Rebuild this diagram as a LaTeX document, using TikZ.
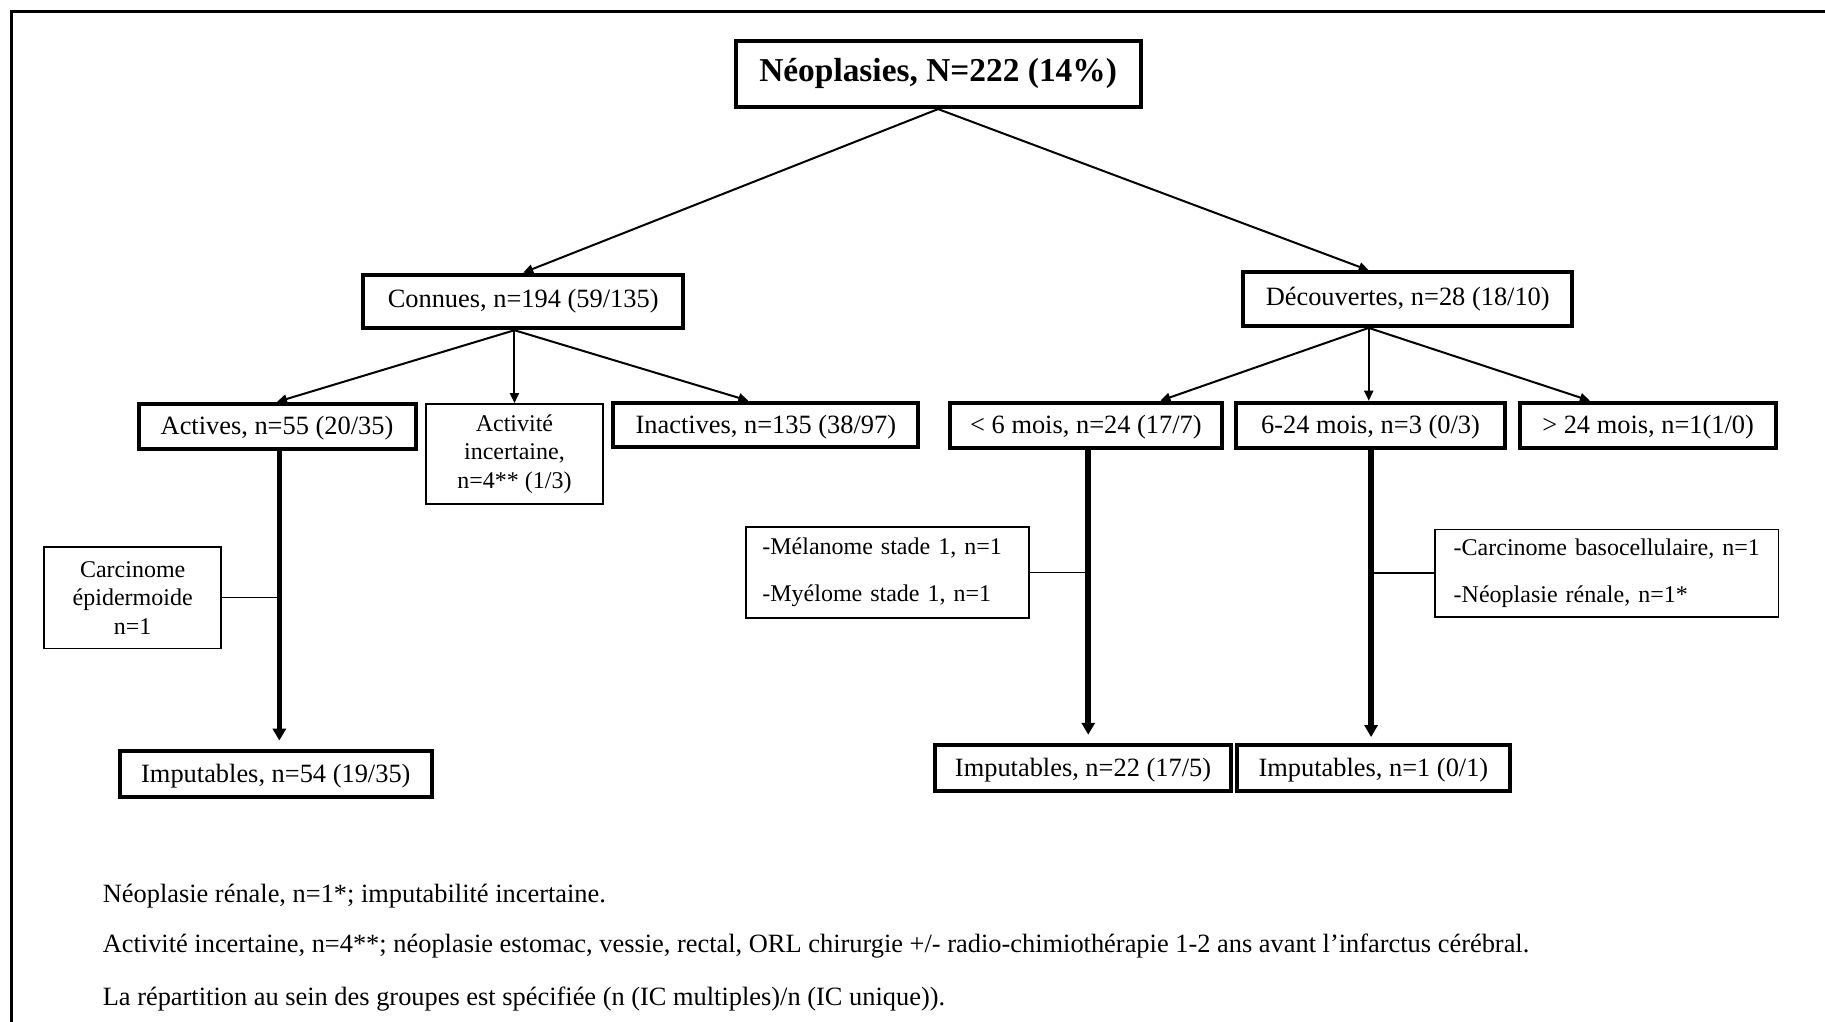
\documentclass[tikz,border=0pt]{standalone}
\usepackage{fontspec}
\setmainfont{Liberation Serif}
\usetikzlibrary{arrows.meta}
\tikzset{
  sz/.style 2 args={minimum width=#1*0.582pt, minimum height=#2*0.582pt},
  boxbase/.style={draw, rectangle, inner sep=0pt, align=center, font=\fontsize{13.2}{15}\selectfont},
  thickbox/.style={boxbase, line width=2pt},
  lowtext/.style={text height=1.05em, text depth=0.22em},
  thinbox/.style={boxbase, line width=0.8pt, font=\fontsize{12}{14.2}\selectfont},
  listbox/.style={thinbox, align=left, font=\fontsize{12}{23.5}\selectfont},
  titlebox/.style={draw, rectangle, inner sep=0pt, line width=2pt, font=\fontsize{16.7}{19}\selectfont\bfseries},
  arr/.style={line width=1pt, -{Triangle[length=5pt,width=4.5pt]}},
  bigarr/.style={line width=2.8pt, -{Triangle[length=6pt,width=6.5pt]}},
  link/.style={line width=0.8pt},
  note/.style={anchor=west, inner sep=0pt, font=\fontsize{13.2}{15}\selectfont},
}
\begin{document}
\begin{tikzpicture}[x=0.582pt, y=-0.582pt]
\useasboundingbox (0,0) rectangle (1568,878);
\fill[white] (0,0) rectangle (1568,878);
% frame (cut off at right and bottom)
\draw[line width=1.8pt] (10,878) -- (10,10) -- (1568,10);

% nodes
\node[titlebox, sz={348}{57}] (top) at (806,63.5) {Néoplasies, N=222 (14\%)};
\node[thickbox, sz={275}{46}] (conn) at (449.5,259) {Connues, n=194 (59/135)};
\node[thickbox, sz={283}{46}] (dec) at (1209.5,257) {Découvertes, n=28 (18/10)};

\node[thickbox, lowtext, sz={238}{39}] (act) at (238,366.5) {Actives, n=55 (20/35)};
\node[thinbox, sz={152}{86}] (inc) at (442,390) {Activité\\incertaine,\\n=4** (1/3)};
\node[thickbox, lowtext, sz={262}{38}] (inact) at (658,365) {Inactives, n=135 (38/97)};

\node[thickbox, lowtext, sz={234}{39}] (m6) at (933,365.5) {< 6 mois, n=24 (17/7)};
\node[thickbox, lowtext, sz={231}{39}] (m624) at (1177.5,365.5) {6-24 mois, n=3 (0/3)};
\node[thickbox, lowtext, sz={220}{39}] (m24) at (1416,365.5) {> 24 mois, n=1(1/0)};

\node[thinbox, sz={152}{87}] (carc) at (114,513.5) {Carcinome\\épidermoide\\n=1};
\node[listbox, sz={243}{78}, text width=215*0.582pt] (mel) at (762.5,492) {-Mélanome stade 1, n=1\\-Myélome stade 1, n=1};
\node[listbox, sz={295}{75}, text width=263*0.582pt] (baso) at (1380.5,492.5) {-Carcinome basocellulaire, n=1\\-Néoplasie rénale, n=1*};

\node[thickbox, lowtext, sz={268}{40}] (imp1) at (237,665) {Imputables, n=54 (19/35)};
\node[thickbox, lowtext, sz={255}{40}] (imp2) at (930.5,660) {Imputables, n=22 (17/5)};
\node[thickbox, lowtext, sz={234}{40}] (imp3) at (1180,660) {Imputables, n=1 (0/1)};

% helper coordinates
\coordinate (decN) at (1176,0 |- dec.north);
\coordinate (decS) at (1176,0 |- dec.south);
\coordinate (connS) at (442,0 |- conn.south);
\coordinate (inactN) at (643,0 |- inact.north);
\coordinate (m6N) at (997,0 |- m6.north);
\coordinate (m624N) at (1176,0 |- m624.north);
\coordinate (m24N) at (1366,0 |- m24.north);
\coordinate (actS) at (240,0 |- act.south);
\coordinate (imp1N) at (240,0 |- imp1.north);
\coordinate (m6S) at (935,0 |- m6.south);
\coordinate (imp2N) at (935,0 |- imp2.north);
\coordinate (m624S) at (1178,0 |- m624.south);
\coordinate (imp3N) at (1178,0 |- imp3.north);
\coordinate (carcJ) at (240,0 |- carc.east);
\coordinate (melJ) at (935,0 |- mel.east);
\coordinate (basoJ) at (1178,0 |- baso.west);

% connectors
\draw[arr] (top.south) -- (conn.north);
\draw[arr] (top.south) -- (decN);
\draw[arr] (connS) -- (act.north);
\draw[arr] (connS) -- (inc.north);
\draw[arr] (connS) -- (inactN);
\draw[arr] (decS) -- (m6N);
\draw[arr] (decS) -- (m624N);
\draw[arr] (decS) -- (m24N);

\draw[bigarr, shorten >=7*0.582pt] (actS) -- (imp1N);
\draw[bigarr, shorten >=7*0.582pt] (m6S) -- (imp2N);
\draw[bigarr, shorten >=5*0.582pt] (m624S) -- (imp3N);

\draw[link] (carc.east) -- (carcJ);
\draw[link] (mel.east) -- (melJ);
\draw[link] (baso.west) -- (basoJ);

% footnotes
\node[note] (n1) at (88,770) {Néoplasie rénale, n=1*; imputabilité incertaine.};
\node[note] (n2) at (88,813) {Activité incertaine, n=4**; néoplasie estomac, vessie, rectal, ORL chirurgie +/- radio-chimiothérapie 1-2 ans avant l’infarctus cérébral.};
\node[note] (n3) at (88,858) {La répartition au sein des groupes est spécifiée (n (IC multiples)/n (IC unique)).};
\end{tikzpicture}
\end{document}
